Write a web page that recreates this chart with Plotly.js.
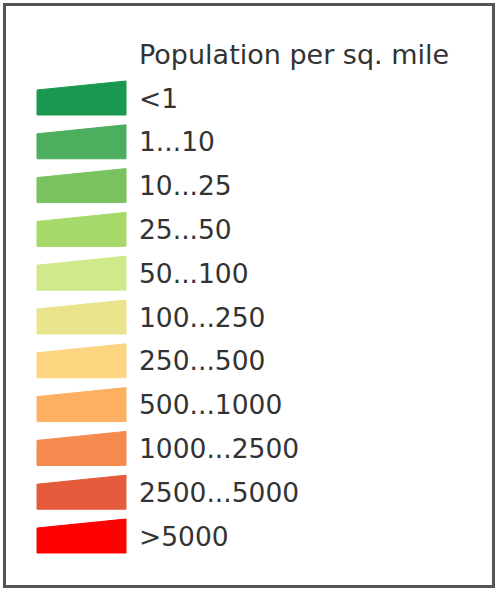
<!DOCTYPE html>
<html>
<head>
<meta charset="utf-8">
<script src="https://cdn.plot.ly/plotly-3.0.1.min.js"></script>
<style>html,body{margin:0;padding:0;background:#fff;}#chart{width:496px;height:589px;}</style>
</head>
<body>
<div id="chart"></div>
<script>
var legendTitle = "Population per sq. mile";
var categories = ["<1", "1...10", "10...25", "25...50", "50...100", "100...250", "250...500", "500...1000", "1000...2500", "2500...5000", ">5000"];
var colors = ["#1a984f", "#4cae5f", "#78c25f", "#a6d86a", "#cfe98b", "#e9e48b", "#fdd47f", "#fdb062", "#f5894e", "#e55a3b", "#ff0000"];

var W = 496, H = 589;
var firstBottom = 115, step = 43.8;
var swX0 = 37, swX1 = 126;
var traces = [];
var annotations = [];
categories.forEach(function (c, i) {
  var b = firstBottom + step * i;
  traces.push({
    type: "scatter", mode: "lines", fill: "toself",
    x: [swX0, swX1, swX1, swX0, swX0],
    y: [b, b, b - 34, b - 25, b],
    fillcolor: colors[i], line: {color: colors[i], width: 1},
    hoverinfo: "skip", showlegend: false
  });
  annotations.push({
    x: 137, y: b - 17, xref: "x", yref: "y", xanchor: "left", yanchor: "middle",
    text: c, showarrow: false,
    font: {family: "DejaVu Sans", size: 26.5, color: "#333"}
  });
});
annotations.push({
  x: 137, y: 54, xref: "x", yref: "y", xanchor: "left", yanchor: "middle",
  text: legendTitle, showarrow: false,
  font: {family: "DejaVu Sans", size: 27, color: "#333"}
});

var layout = {
  width: W, height: H,
  margin: {l: 0, r: 0, t: 0, b: 0},
  paper_bgcolor: "#fff", plot_bgcolor: "#fff",
  xaxis: {range: [0, W], visible: false, fixedrange: true},
  yaxis: {range: [H, 0], visible: false, fixedrange: true},
  showlegend: false,
  annotations: annotations,
  shapes: [{
    type: "rect", xref: "x", yref: "y", x0: 4.5, x1: 493.5, y0: 4.5, y1: 586.5,
    line: {color: "#555", width: 3}
  }]
};
Plotly.newPlot("chart", traces, layout, {displayModeBar: false, staticPlot: true});
</script>
</body>
</html>
